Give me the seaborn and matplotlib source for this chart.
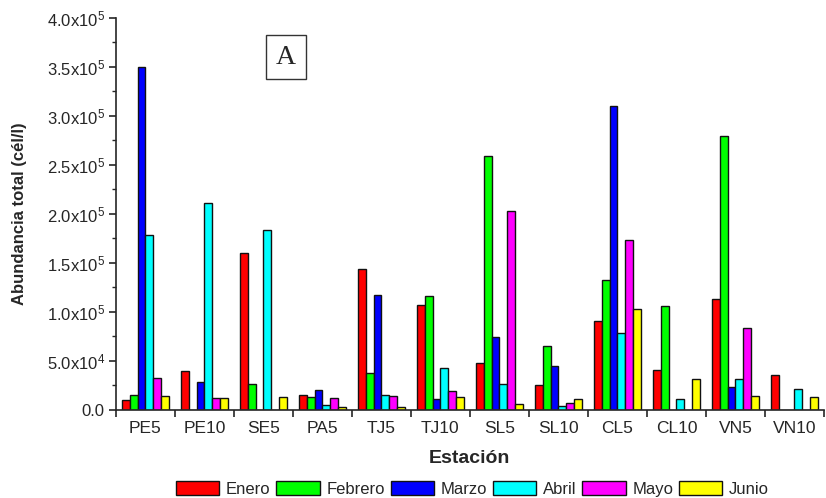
import numpy as np
import pandas as pd
import matplotlib
matplotlib.use("Agg")
import matplotlib.pyplot as plt
from matplotlib.ticker import FixedLocator, FuncFormatter
import seaborn as sns

estaciones = ["PE5", "PE10", "SE5", "PA5", "TJ5", "TJ10", "SL5", "SL10", "CL5", "CL10", "VN5", "VN10"]
meses = ["Enero", "Febrero", "Marzo", "Abril", "Mayo", "Junio"]

enero   = [10000, 40000, 160000, 15000, 144000, 107000, 48000, 25000, 91000, 41000, 113000, 36000]
febrero = [15000, 0, 27000, 13000, 38000, 116000, 259000, 65000, 133000, 106000, 280000, 0]
marzo   = [350000, 28500, 0, 20000, 117000, 11000, 74500, 44500, 310000, 0, 23500, 0]
abril   = [179000, 211000, 183500, 4700, 15000, 42500, 27000, 3700, 79000, 11000, 32000, 21000]
mayo    = [33000, 12500, 0, 12000, 14000, 19000, 203500, 6700, 173000, 0, 84000, 0]
junio   = [14500, 12000, 13000, 3000, 3000, 13000, 6000, 11000, 103500, 32000, 14500, 13000]

colores = ["#FF0000", "#00FF00", "#0000FF", "#00FFFF", "#FF00FF", "#FFFF00"]

series = [enero, febrero, marzo, abril, mayo, junio]
df = pd.DataFrame({
    "Estación": np.tile(estaciones, len(meses)),
    "Mes": np.repeat(meses, len(estaciones)),
    "Abundancia": np.concatenate(series),
})

sns.set_style("ticks")
plt.rcParams["font.family"] = ["Liberation Sans", "DejaVu Sans"]
plt.rcParams["mathtext.fontset"] = "custom"
plt.rcParams["mathtext.rm"] = "Liberation Sans"
plt.rcParams["mathtext.it"] = "Liberation Sans"

fig = plt.figure(figsize=(8.26, 4.98), dpi=100)
ax = fig.add_axes([0.1404, 0.1767, 0.857, 0.7873])

sns.barplot(data=df, x="Estación", y="Abundancia", hue="Mes", order=estaciones,
            hue_order=meses, palette=colores, width=0.8, edgecolor="#111111",
            linewidth=1.0, saturation=1, ax=ax, legend=False)

ax.set_ylim(0, 400000)
ax.set_xlim(-0.5, len(estaciones) - 0.5)

def fmt(v, pos):
    if v <= 0:
        return "0.0"
    exp = int(np.floor(np.log10(v) + 1e-9))
    mant = v / 10 ** exp
    return r"%.1fx10$^{%d}$" % (mant, exp)

ax.yaxis.set_major_locator(FixedLocator(np.arange(0, 400001, 50000)))
ax.yaxis.set_minor_locator(FixedLocator(np.arange(25000, 400000, 50000)))
ax.yaxis.set_major_formatter(FuncFormatter(fmt))

ax.xaxis.set_minor_locator(FixedLocator(np.arange(-0.5, len(estaciones) + 0.5, 1.0)))
ax.tick_params(axis="x", which="major", length=0, labelsize=12.5, pad=8)
ax.tick_params(axis="x", which="minor", length=5, width=1.2, direction="out")
ax.tick_params(axis="y", which="major", length=5, width=1.2, labelsize=12, direction="out", pad=3)
ax.tick_params(axis="y", which="minor", length=3, width=1.0, direction="out")

for side in ("top", "right"):
    ax.spines[side].set_visible(False)
for side in ("left", "bottom"):
    ax.spines[side].set_linewidth(1.2)

ax.set_xlabel("Estación", fontsize=14, fontweight="bold", labelpad=10)
ax.set_ylabel("Abundancia total (cél/l)", fontsize=12, fontweight="bold", labelpad=14)

ax.text(0.24, 0.90, "A", transform=ax.transAxes, fontsize=20,
        family=["Liberation Serif", "DejaVu Serif"], ha="center", va="center",
        bbox=dict(boxstyle="square,pad=0.35", facecolor="white", edgecolor="#333333", linewidth=1.0))

handles = [plt.Rectangle((0, 0), 1, 1, facecolor=c, edgecolor="#111111", linewidth=1.0) for c in colores]
fig.legend(handles, meses, loc="center", bbox_to_anchor=(0.572, 0.018), ncol=6, frameon=False,
           fontsize=12, handlelength=2.6, handleheight=0.9, handletextpad=0.4,
           columnspacing=0.35, borderaxespad=0)

fig.savefig("out.png", dpi=100)
